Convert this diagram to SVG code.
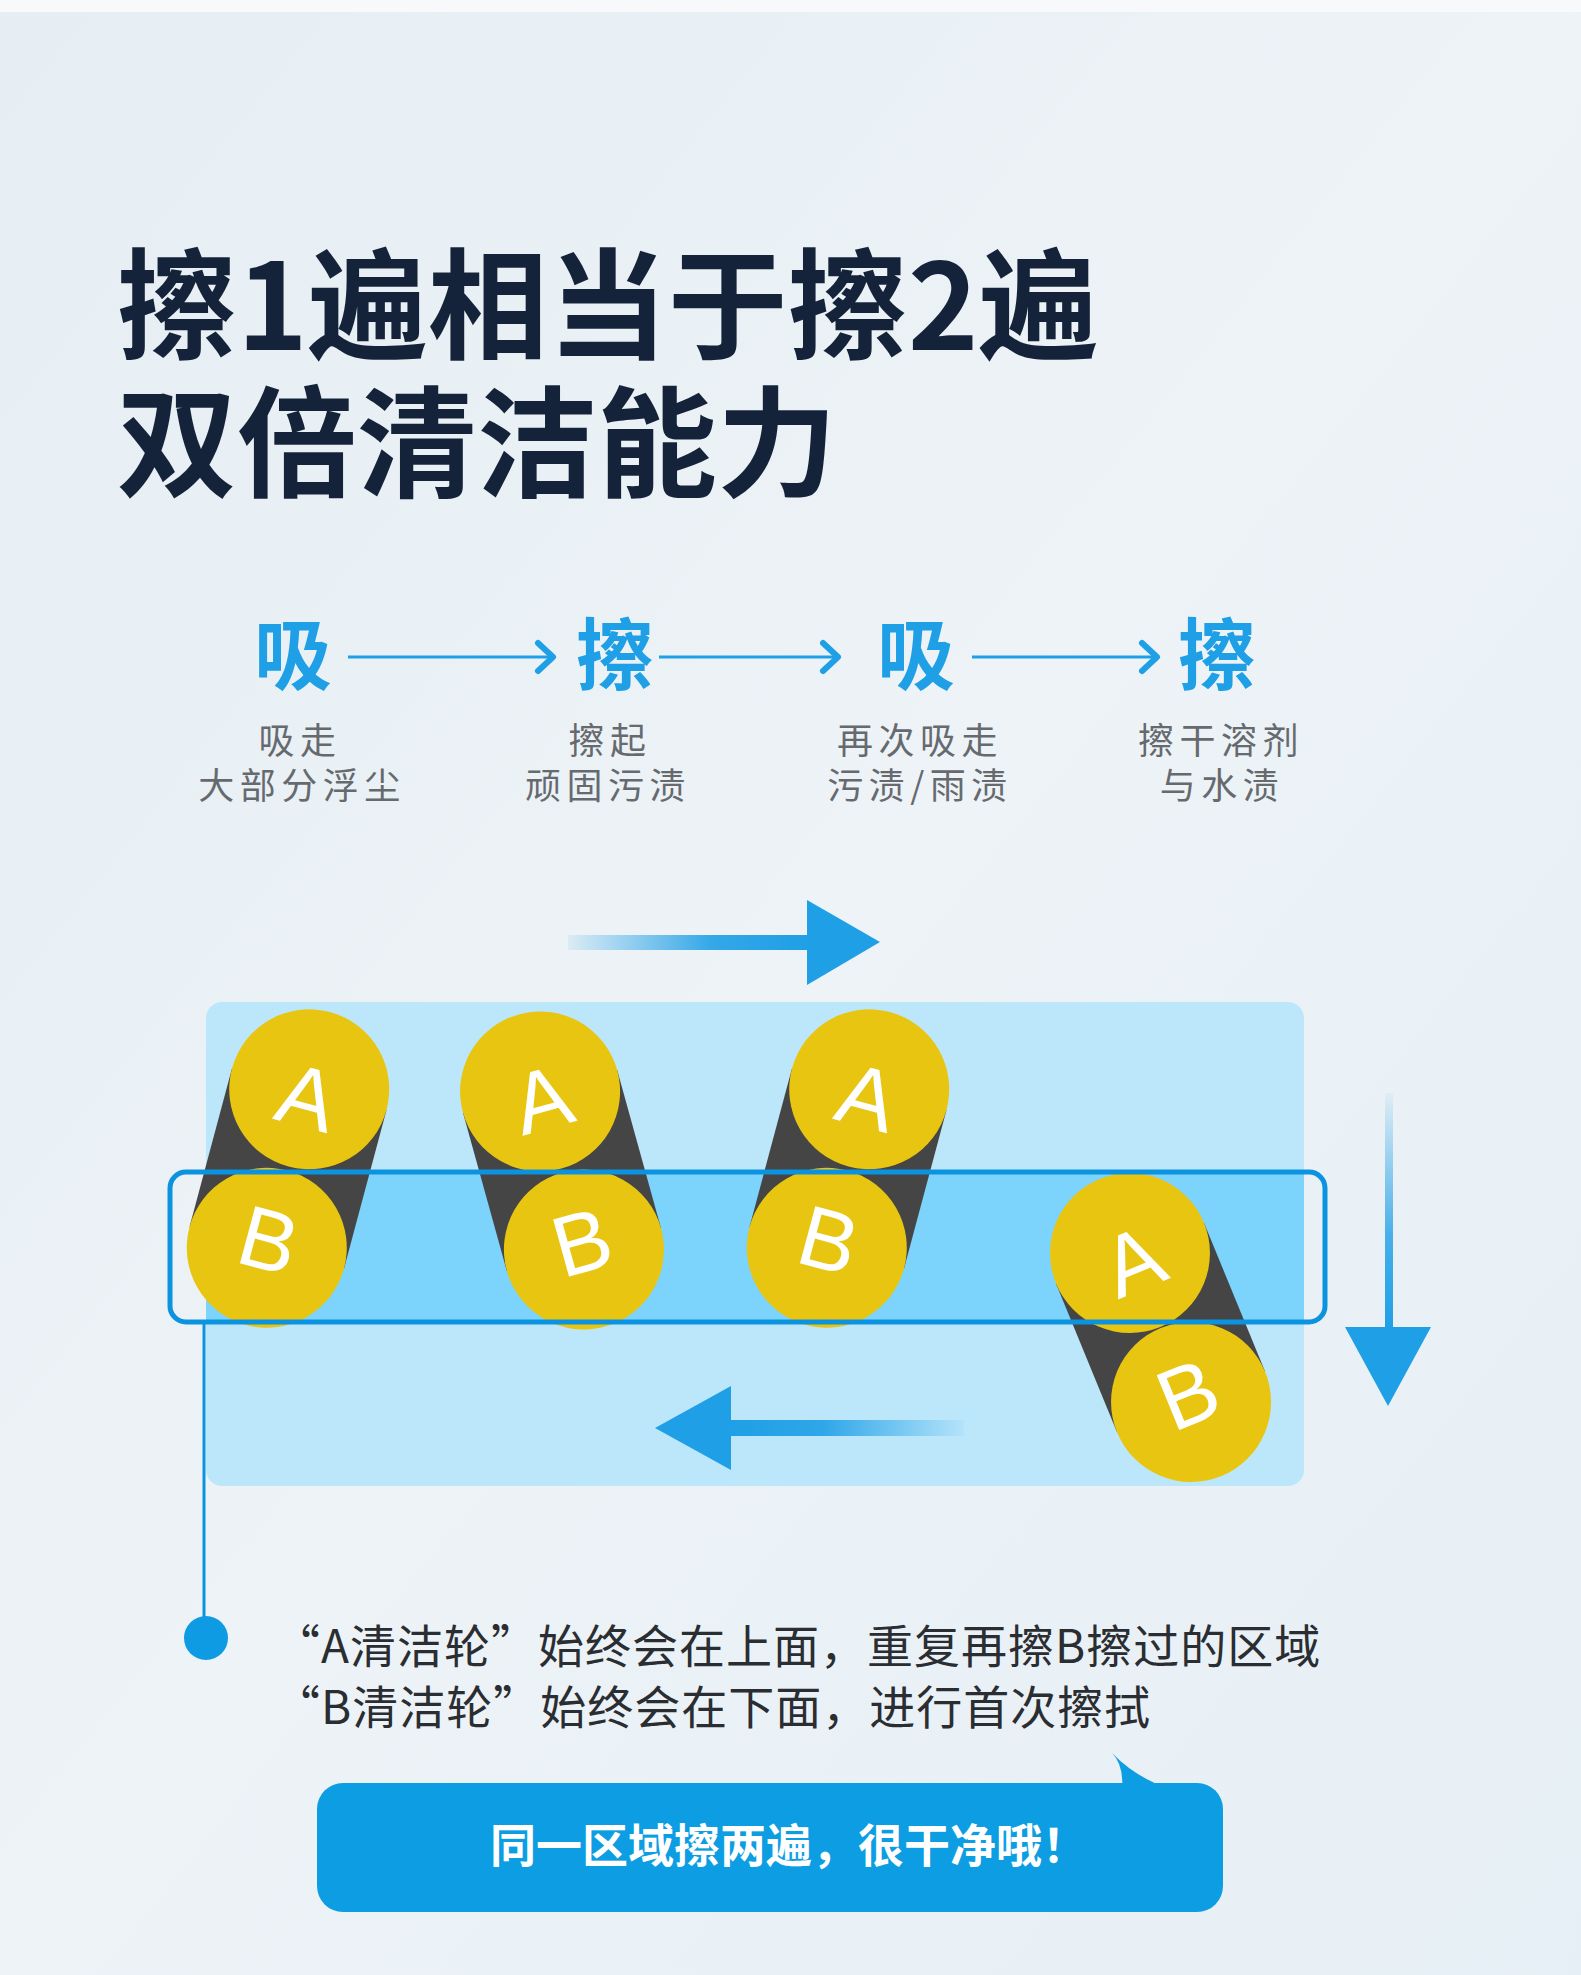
<svg xmlns="http://www.w3.org/2000/svg" width="1581" height="1975" viewBox="0 0 1581 1975">
<defs>
<style>
.cjk{font-family:"Noto Sans CJK SC","Noto Sans",sans-serif}
.title{font-size:120px;font-weight:700;fill:#14233a}
.step{font-size:78px;font-weight:700;fill:#1f9fe6;text-anchor:middle}
.sub{font-size:36px;fill:#666a6e;text-anchor:middle;letter-spacing:5.5px}
.note{font-size:46px;fill:#2a2d31;letter-spacing:1px}
.bubtxt{font-size:46px;font-weight:700;fill:#ffffff}
.belt{stroke:#454545;stroke-width:160}
.wheel{fill:#e8c510}
.lbl{font-family:"Liberation Sans","Noto Sans",sans-serif;font-size:86px;fill:#ffffff;text-anchor:middle}
.chev{fill:none;stroke:#1f9fe6;stroke-width:6;stroke-linecap:round;stroke-linejoin:round}
.thin{stroke:#1f9fe6;stroke-width:3}
.head{fill:#1f9fe6}
</style>
<linearGradient id="bg" x1="0" y1="0" x2="1" y2="1">
<stop offset="0" stop-color="#e6eef3"/>
<stop offset="0.5" stop-color="#edf3f7"/>
<stop offset="1" stop-color="#e6eff5"/>
</linearGradient>
<linearGradient id="gR" gradientUnits="userSpaceOnUse" x1="568" y1="0" x2="808" y2="0">
<stop offset="0" stop-color="#1f9fe6" stop-opacity="0.08"/>
<stop offset="0.6" stop-color="#1f9fe6" stop-opacity="0.9"/>
<stop offset="1" stop-color="#1f9fe6"/>
</linearGradient>
<linearGradient id="gL" gradientUnits="userSpaceOnUse" x1="729" y1="0" x2="964" y2="0">
<stop offset="0" stop-color="#1f9fe6"/>
<stop offset="0.4" stop-color="#1f9fe6" stop-opacity="0.9"/>
<stop offset="1" stop-color="#1f9fe6" stop-opacity="0.05"/>
</linearGradient>
<linearGradient id="gD" gradientUnits="userSpaceOnUse" x1="0" y1="1093" x2="0" y2="1330">
<stop offset="0" stop-color="#1f9fe6" stop-opacity="0.05"/>
<stop offset="0.6" stop-color="#1f9fe6" stop-opacity="0.8"/>
<stop offset="1" stop-color="#1f9fe6"/>
</linearGradient>
</defs>

<rect x="0" y="0" width="1581" height="1975" fill="url(#bg)"/>
<rect x="0" y="0" width="1581" height="12" fill="#f7f9fb"/>

<g id="title" class="cjk title">
<text x="117" y="350">擦1遍相当于擦2遍</text>
<text x="117" y="488">双倍清洁能力</text>
</g>

<g id="step1">
<text class="cjk step" x="293" y="684">吸</text>
<text class="cjk sub" x="300" y="754">吸走</text>
<text class="cjk sub" x="302" y="799">大部分浮尘</text>
</g>
<g id="step2">
<text class="cjk step" x="615" y="684">擦</text>
<text class="cjk sub" x="610" y="754">擦起</text>
<text class="cjk sub" x="608" y="799">顽固污渍</text>
</g>
<g id="step3">
<text class="cjk step" x="916" y="684">吸</text>
<text class="cjk sub" x="920" y="754">再次吸走</text>
<text class="cjk sub" x="920" y="799">污渍/雨渍</text>
</g>
<g id="step4">
<text class="cjk step" x="1217" y="684">擦</text>
<text class="cjk sub" x="1221" y="754">擦干溶剂</text>
<text class="cjk sub" x="1222" y="799">与水渍</text>
</g>

<g id="connectors">
<line class="thin" x1="348" y1="657" x2="552" y2="657"/>
<polyline class="chev" points="538,643 553,657 538,671"/>
<line class="thin" x1="659" y1="657" x2="838" y2="657"/>
<polyline class="chev" points="823,643 838,657 823,671"/>
<line class="thin" x1="972" y1="657" x2="1157" y2="657"/>
<polyline class="chev" points="1142,643 1157,657 1142,671"/>
</g>

<g id="area">
<rect x="206" y="1002" width="1098" height="484" rx="16" fill="#bce7fb"/>
<rect x="206" y="1172" width="1098" height="150" fill="#7cd3fc"/>
</g>

<g id="motion-arrows">
<rect x="568" y="935" width="241" height="15" fill="url(#gR)"/>
<polygon class="head" points="807,900 807,985 880,942"/>
<rect x="729" y="1420" width="235" height="16" fill="url(#gL)"/>
<polygon class="head" points="731,1386 731,1470 655,1428"/>
<rect x="1385" y="1093" width="8" height="236" fill="url(#gD)"/>
<polygon class="head" points="1345,1327 1431,1327 1388,1406"/>
</g>

<g id="pair1" transform="translate(288,1168.5) rotate(15)">
<line class="belt" x1="0" y1="-82" x2="0" y2="82"/>
<circle class="wheel" cx="0" cy="-82" r="80"/>
<circle class="wheel" cx="0" cy="82" r="80"/>
<text class="lbl" x="0" y="-44">A</text>
<text class="lbl" x="0" y="104">B</text>
</g>
<g id="pair2" transform="translate(562,1170.5) rotate(-15.5)">
<line class="belt" x1="0" y1="-82" x2="0" y2="82"/>
<circle class="wheel" cx="0" cy="-82" r="80"/>
<circle class="wheel" cx="0" cy="82" r="80"/>
<text class="lbl" x="0" y="-44">A</text>
<text class="lbl" x="0" y="104">B</text>
</g>
<g id="pair3" transform="translate(848,1168.5) rotate(15)">
<line class="belt" x1="0" y1="-82" x2="0" y2="82"/>
<circle class="wheel" cx="0" cy="-82" r="80"/>
<circle class="wheel" cx="0" cy="82" r="80"/>
<text class="lbl" x="0" y="-44">A</text>
<text class="lbl" x="0" y="104">B</text>
</g>
<g id="pair4" transform="translate(1160.5,1327.5) rotate(-22.3)">
<line class="belt" x1="0" y1="-80.5" x2="0" y2="80.5"/>
<circle class="wheel" cx="0" cy="-80.5" r="80"/>
<circle class="wheel" cx="0" cy="80.5" r="80"/>
<text class="lbl" x="0" y="-42">A</text>
<text class="lbl" x="0" y="102">B</text>
</g>

<g id="band">
<rect x="170" y="1172" width="1155" height="150" rx="16" fill="none" stroke="#0b93e0" stroke-width="5"/>
<line x1="204" y1="1322" x2="204" y2="1620" stroke="#0b93e0" stroke-width="3"/>
<circle cx="206" cy="1638" r="22" fill="#0e9be3"/>
</g>

<g id="note" class="cjk note">
<text x="274" y="1663">“A清洁轮”始终会在上面，重复再擦B擦过的区域</text>
<text x="274" y="1724">“B清洁轮”始终会在下面，进行首次擦拭</text>
</g>

<g id="bubble">
<path d="M1112,1753 Q1124,1765 1122,1790 L1172,1790 Q1136,1778 1112,1753 Z" fill="#0d9de2"/>
<rect x="317" y="1783" width="906" height="129" rx="26" fill="#0d9de2"/>
<text class="cjk bubtxt" x="490" y="1862">同一区域擦两遍，很干净哦！</text>
</g>
</svg>
